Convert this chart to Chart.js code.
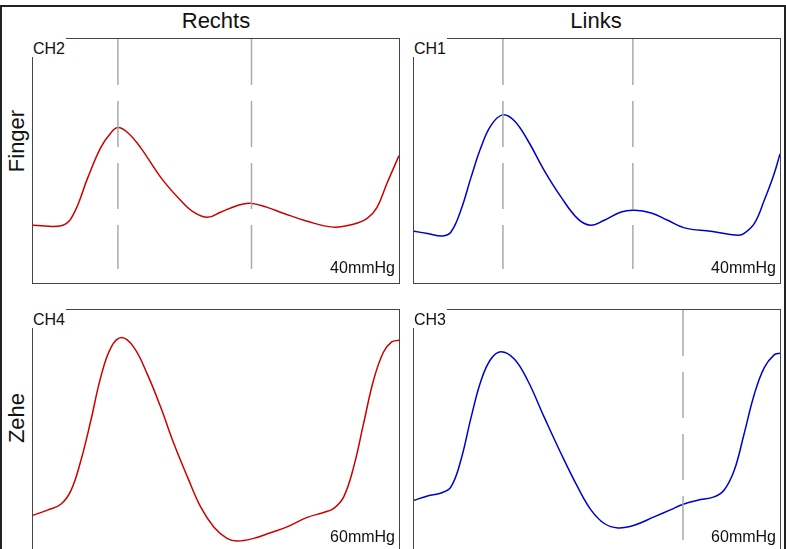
<!DOCTYPE html>
<html>
<head>
<meta charset="utf-8">
<script src="https://cdn.jsdelivr.net/npm/chart.js@4.4.0/dist/chart.umd.min.js"></script>
<style>
    body { margin: 0; background: #fff; font-family: Arial, "Liberation Sans", sans-serif; }
    #frame { position: absolute; left: 0; top: 5px; width: 782px; height: 560px; border: 2px solid #222; }
    .panel { position: absolute; width: 366px; height: 244px; border: 1px solid #444; background: #fff; }
    .panel canvas { display: block; }
    .title { position: absolute; font-size: 22px; color: #111; width: 200px; text-align: center; }
    .side { position: absolute; font-size: 22px; color: #111; transform: rotate(-90deg); width: 120px; text-align: center; }
    .ch { position: absolute; font-size: 16px; color: #111; background: #fff; padding: 2px 1px 0 1px; line-height: 17px; }
    .mm { position: absolute; font-size: 16px; color: #111; text-align: right; width: 100px; line-height: 18px; }
</style>
</head>
<body>
<div id="frame"></div>

<div class="title" style="left:116px; top:8px;">Rechts</div>
<div class="title" style="left:496px; top:8px;">Links</div>
<div class="side" style="left:-43px; top:128px;">Finger</div>
<div class="side" style="left:-43px; top:405px;">Zehe</div>

<div class="panel" style="left:32px; top:38px;"><canvas id="ch2" width="366" height="244"></canvas></div>
<div class="panel" style="left:413px; top:38px;"><canvas id="ch1" width="366" height="244"></canvas></div>
<div class="panel" style="left:32px; top:309px;"><canvas id="ch4" width="366" height="244"></canvas></div>
<div class="panel" style="left:413px; top:309px;"><canvas id="ch3" width="366" height="244"></canvas></div>

<div class="ch" style="left:32px; top:38px;">CH2</div>
<div class="ch" style="left:413px; top:38px;">CH1</div>
<div class="ch" style="left:32px; top:309px;">CH4</div>
<div class="ch" style="left:413px; top:309px;">CH3</div>

<div class="mm" style="left:295px; top:259px;">40mmHg</div>
<div class="mm" style="left:676px; top:259px;">40mmHg</div>
<div class="mm" style="left:295px; top:528px;">60mmHg</div>
<div class="mm" style="left:676px; top:528px;">60mmHg</div>

<script>
// Zeit (0-100 % der Periode) und Amplitude (0-100 % des Panels)
const timeCH2 = [0, 8.2, 11.2, 15.0, 18.5, 21.3, 23.2, 25.9, 29.4, 34.9, 40.3, 43.9, 47.7, 51.2, 55.9, 59.4, 64.0, 68.4, 74.9, 82.0, 87.5, 91.3, 94.0, 96.7, 100];
const ampCH2  = [23.7, 23.7, 28.6, 43.3, 55.5, 61.6, 63.7, 61.6, 55.5, 43.3, 33.9, 29.0, 26.9, 29.0, 31.8, 32.7, 31.0, 28.6, 25.3, 22.9, 24.1, 26.5, 31.0, 40.8, 52.2];

const timeCH1 = [0, 3.7, 7.8, 10.1, 12.8, 15.6, 18.3, 21.0, 24.2, 27.4, 31.1, 35.6, 40.2, 44.7, 48.2, 52.0, 56.6, 60.2, 64.8, 69.3, 73.9, 81.1, 88.4, 90.2, 93.0, 95.7, 98.4, 100];
const ampCH1  = [21.2, 20.3, 19.3, 20.9, 29.8, 43.4, 55.6, 64.5, 68.9, 66.5, 58.4, 46.1, 35.2, 26.4, 23.7, 25.7, 29.1, 29.8, 28.7, 25.7, 22.6, 21.2, 19.6, 20.3, 24.4, 33.9, 44.8, 52.9];

const timeCH4 = [0, 4.0, 7.6, 10.4, 13.1, 15.8, 18.5, 21.3, 24.2, 27.6, 31.2, 34.9, 38.5, 42.2, 45.8, 49.4, 53.0, 55.8, 60.3, 64.9, 69.4, 74.9, 79.4, 82.2, 84.9, 87.6, 90.3, 93.0, 95.7, 98.0, 100];
const ampCH4  = [15.9, 18.0, 20.4, 26.1, 38.4, 54.7, 72.4, 84.6, 88.7, 84.6, 73.8, 60.1, 45.2, 31.6, 19.3, 11.1, 6.4, 5.3, 6.4, 8.7, 11.1, 15.0, 17.0, 18.7, 23.4, 35.6, 53.3, 71.0, 82.6, 86.9, 87.6];

const timeCH3 = [0, 3.7, 7.4, 10.1, 12.8, 15.6, 18.3, 21.0, 23.8, 27.4, 31.1, 35.6, 40.2, 44.7, 48.4, 52.0, 55.7, 60.2, 65.6, 70.2, 73.4, 77.5, 82.0, 84.7, 87.5, 90.2, 93.0, 95.7, 98.4, 100];
const ampCH3  = [22.0, 23.8, 25.0, 27.5, 38.4, 56.0, 71.0, 79.9, 82.9, 79.9, 71.0, 56.0, 41.1, 27.5, 18.0, 12.5, 10.7, 11.8, 15.2, 18.2, 20.3, 22.0, 23.4, 26.1, 34.3, 49.3, 65.6, 76.4, 81.6, 82.3];

// Markierungen (gestrichelte Linien)
const markersCH2 = [23.2, 59.7];
const markersCH1 = [24.3, 59.8];
const markersCH4 = [];
const markersCH3 = [73.5];
const markerTop = 100;
const markerBottom = 5.7;

function renderPulseChart(canvasId, times, amps, markers, color) {
    const ctx = document.getElementById(canvasId).getContext('2d');

    const datasets = markers.map(m => ({
        data: [{ x: m, y: markerTop }, { x: m, y: markerBottom }],
        borderColor: '#aaaaaa',
        borderWidth: 1.5,
        borderDash: [46, 16],
        pointRadius: 0
    }));

    datasets.push({
        data: times.map((t, i) => ({ x: t, y: amps[i] })),
        borderColor: color,
        borderWidth: 1.5,
        pointRadius: 0,
        tension: 0.4
    });

    return new Chart(ctx, {
        type: 'line',
        data: { datasets: datasets },
        options: {
            responsive: false,
            animation: false,
            layout: { padding: 0 },
            plugins: {
                legend: { display: false },
                tooltip: { enabled: false }
            },
            scales: {
                x: { type: 'linear', min: 0, max: 100, display: false },
                y: { min: 0, max: 100, display: false }
            }
        }
    });
}

renderPulseChart('ch2', timeCH2, ampCH2, markersCH2, '#cc0000');
renderPulseChart('ch1', timeCH1, ampCH1, markersCH1, '#0000cc');
renderPulseChart('ch4', timeCH4, ampCH4, markersCH4, '#cc0000');
renderPulseChart('ch3', timeCH3, ampCH3, markersCH3, '#0000cc');
</script>
</body>
</html>
